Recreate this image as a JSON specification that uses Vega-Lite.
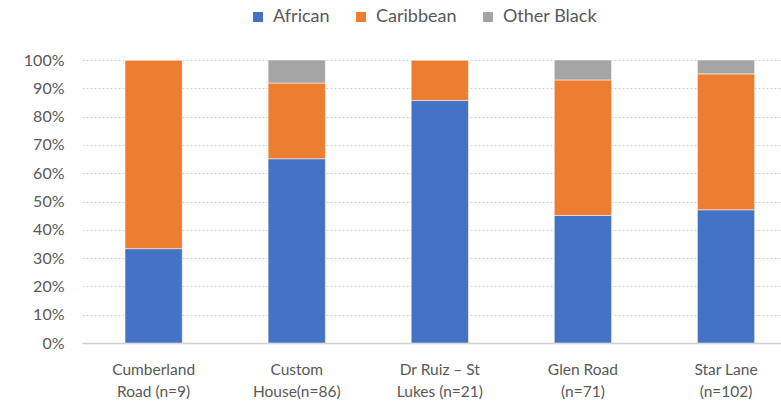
{
  "$schema": "https://vega.github.io/schema/vega-lite/v6.json",
  "width": 699,
  "height": 283,
  "autosize": {"type": "none"},
  "padding": {"left": 82, "top": 60, "right": 0, "bottom": 64},
  "background": "white",
  "config": {
    "font": "Lato",
    "view": {"stroke": null}
  },
  "data": {
    "values": [
      {"site": "Cumberland Road (n=9)", "group": "African", "order": 1, "count": 3},
      {"site": "Cumberland Road (n=9)", "group": "Caribbean", "order": 2, "count": 6},
      {"site": "Cumberland Road (n=9)", "group": "Other Black", "order": 3, "count": 0},
      {"site": "Custom House(n=86)", "group": "African", "order": 1, "count": 56},
      {"site": "Custom House(n=86)", "group": "Caribbean", "order": 2, "count": 23},
      {"site": "Custom House(n=86)", "group": "Other Black", "order": 3, "count": 7},
      {"site": "Dr Ruiz – St Lukes (n=21)", "group": "African", "order": 1, "count": 18},
      {"site": "Dr Ruiz – St Lukes (n=21)", "group": "Caribbean", "order": 2, "count": 3},
      {"site": "Dr Ruiz – St Lukes (n=21)", "group": "Other Black", "order": 3, "count": 0},
      {"site": "Glen Road (n=71)", "group": "African", "order": 1, "count": 32},
      {"site": "Glen Road (n=71)", "group": "Caribbean", "order": 2, "count": 34},
      {"site": "Glen Road (n=71)", "group": "Other Black", "order": 3, "count": 5},
      {"site": "Star Lane (n=102)", "group": "African", "order": 1, "count": 48},
      {"site": "Star Lane (n=102)", "group": "Caribbean", "order": 2, "count": 49},
      {"site": "Star Lane (n=102)", "group": "Other Black", "order": 3, "count": 5}
    ]
  },
  "mark": {"type": "bar", "stroke": "white", "strokeWidth": 0.5},
  "encoding": {
    "x": {
      "field": "site",
      "type": "nominal",
      "sort": null,
      "scale": {"paddingInner": 0.6, "paddingOuter": 0.2425, "align": 0.62},
      "axis": {
        "title": null,
        "labelAngle": 0,
        "labelFontSize": 15.5,
        "labelColor": "#595959",
        "labelPadding": 19,
        "labelLineHeight": 22.5,
        "ticks": false,
        "domain": true,
        "domainColor": "#d0d0d0",
        "domainWidth": 1.5,
        "labelExpr": "datum.value == 'Cumberland Road (n=9)' ? ['Cumberland', 'Road (n=9)'] : datum.value == 'Custom House(n=86)' ? ['Custom', 'House(n=86)'] : datum.value == 'Dr Ruiz – St Lukes (n=21)' ? ['Dr Ruiz – St', 'Lukes (n=21)'] : datum.value == 'Glen Road (n=71)' ? ['Glen Road', '(n=71)'] : ['Star Lane', '(n=102)']"
      }
    },
    "y": {
      "field": "count",
      "type": "quantitative",
      "stack": "normalize",
      "scale": {"domain": [0, 1]},
      "axis": {
        "title": null,
        "format": ".0%",
        "values": [0, 0.1, 0.2, 0.3, 0.4, 0.5, 0.6, 0.7, 0.8, 0.9, 1],
        "labelFontSize": 16,
        "labelColor": "#595959",
        "labelPadding": 18,
        "ticks": false,
        "domain": false,
        "grid": true,
        "gridColor": "#d0d0d0",
        "gridDash": [2, 2],
        "gridWidth": 1
      }
    },
    "color": {
      "field": "group",
      "type": "nominal",
      "scale": {
        "domain": ["African", "Caribbean", "Other Black"],
        "range": ["#4472C4", "#ED7D31", "#A5A5A5"]
      },
      "legend": {
        "title": null,
        "orient": "none",
        "direction": "horizontal",
        "legendX": 167,
        "legendY": -52,
        "symbolType": "square",
        "symbolSize": 100,
        "symbolStrokeWidth": 0,
        "labelFontSize": 18,
        "labelColor": "#595959",
        "columnPadding": 22,
        "labelOffset": 6
      }
    },
    "order": {"field": "order", "type": "quantitative"}
  }
}
